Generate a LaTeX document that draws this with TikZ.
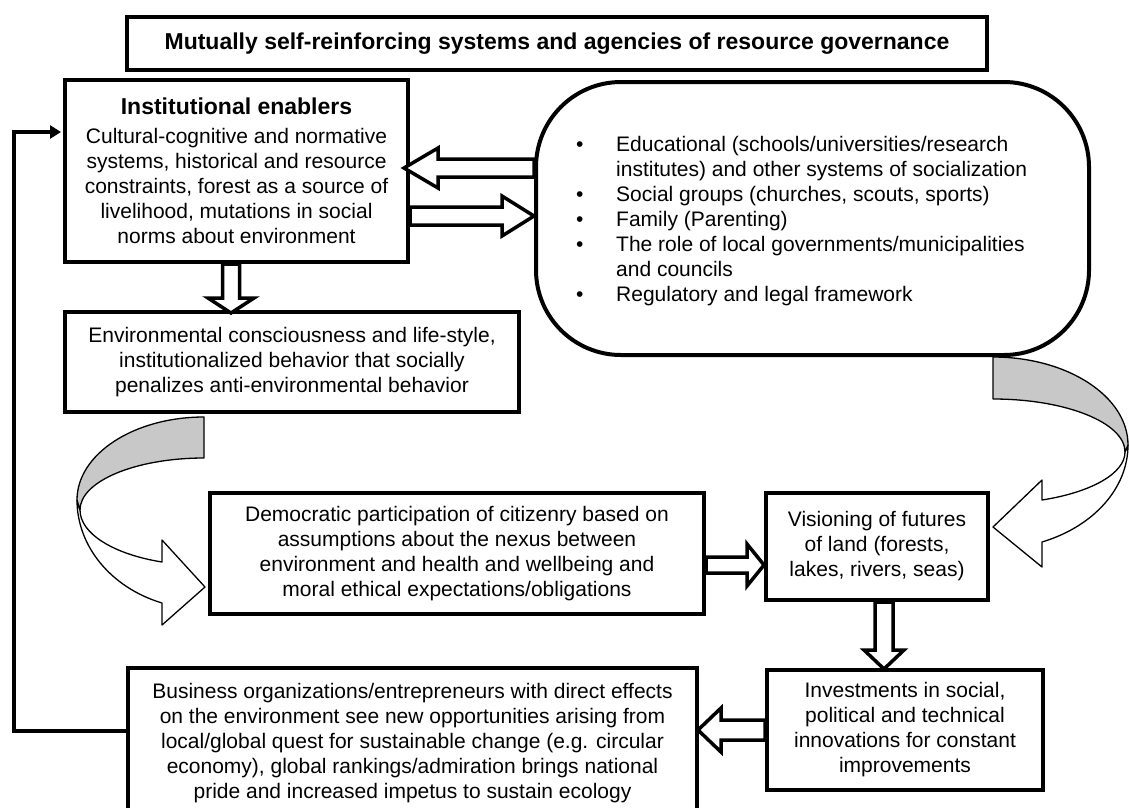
\documentclass[tikz,border=0pt]{standalone}
\usepackage{fontspec}
\setmainfont{Liberation Sans}
\usetikzlibrary{arrows.meta}
\newcommand\diagfont{\fontsize{21}{25}\selectfont}
\newcommand\headfont{\fontsize{23}{27}\selectfont\bfseries}
\newcommand\bl{\makebox[40pt][l]{•}}
\newcommand\ind{\hspace*{40pt}}
\definecolor{bandgray}{RGB}{200,200,200}
\begin{document}
\begin{tikzpicture}[x=1pt,y=-1pt,
  box/.style={draw, line width=4pt, inner sep=0pt, align=center, font=\diagfont},
  hollowline/.style={draw, fill=white, line width=3.5pt, miter limit=10},
  band/.style={draw, line width=1.3pt, line join=round},
  feedback/.style={line width=4pt, -{Triangle[length=11pt,width=13pt]}},
  pics/hollow/.style args={#1/#2/#3/#4}{code={
    \path[hollowline] (0,#2) -- ({#1-#4},#2) -- ({#1-#4},#3) -- (#1,0)
      -- ({#1-#4},-#3) -- ({#1-#4},-#2) -- (0,-#2) -- cycle;}}]
\useasboundingbox (0,0) rectangle (1129,807);
\clip (0,0) rectangle (1129,807);

% boxes
\node[box, minimum width=860pt, minimum height=53pt, font=\headfont] (title) at (557,43.5)
  {Mutually self-reinforcing systems and agencies of resource governance};
\node[box, minimum width=343pt, minimum height=182pt] (inst) at (236.5,171)
  {{\headfont Institutional enablers}\\[4pt]
   Cultural-cognitive and normative\\ systems, historical and resource\\
   constraints, forest as a source of\\ livelihood, mutations in social\\
   norms about environment};
\node[box, rounded corners=85pt, minimum width=553pt, minimum height=273pt] (bullets) at (812.5,218.5) {};
\node[anchor=west, align=left, inner sep=0pt, font=\diagfont] (blist) at (576,221)
  {\bl Educational (schools/universities/research\\
   \ind institutes) and other systems of socialization\\
   \bl Social groups (churches, scouts, sports)\\
   \bl Family (Parenting)\\
   \bl The role of local governments/municipalities\\
   \ind and councils\\
   \bl Regulatory and legal framework};
\node[box, minimum width=454pt, minimum height=100pt] (env) at (292,362)
  {Environmental consciousness and life-style,\\ institutionalized behavior that socially\\
   penalizes anti-environmental behavior};
\node[box, minimum width=494pt, minimum height=121pt] (dem) at (457,553.5)
  {Democratic participation of citizenry based on\\ assumptions about the nexus between\\
   environment and health and wellbeing and\\ moral ethical expectations/obligations};
\node[box, minimum width=222pt, minimum height=107pt] (vis) at (877,546.5)
  {Visioning of futures\\ of land (forests,\\ lakes, rivers, seas)};
\node[box, minimum width=276pt, minimum height=120pt] (inv) at (905,730)
  {Investments in social,\\ political and technical\\ innovations for constant\\ improvements};
\node[box, minimum width=569pt, minimum height=150pt] (bus) at (412.5,743)
  {Business organizations/entrepreneurs with direct effects\\
   on the environment see new opportunities arising from\\
   local/global quest for sustainable change (e.g. circular\\
   economy), global rankings/admiration brings national\\
   pride and increased impetus to sustain ecology};

% hollow block arrows between boxes
\pic[rotate=180] at (bullets.west |- 0,168) {hollow=130/9/20/34};
\pic at (inst.east |- 0,216) {hollow=124/9/20/32};
\pic[rotate=-90] at (inst.south -| 231,0) {hollow=49/8.5/23/15};
\pic at (dem.east |- 0,565) {hollow=58/8/21/17};
\pic[rotate=-90] at (vis.south -| 884,0) {hollow=67/9/20/19};
\pic[rotate=180] at (inv.west |- 0,730) {hollow=67/10/22/23};

% feedback loop from business back to the institutional enablers
\draw[feedback, shorten >=2pt] (bus.west |- 0,731) -- (14,731) |- (inst.west |- 0,132);

% curved ribbon arrow on the left: env -> dem
\path[band, fill=white] (80,510) .. controls (80,533.2) and (112.8,554.1) .. (162,562)
  -- (162,540) -- (205,587) -- (162,625) -- (162,603)
  .. controls (111.1,587.7) and (77,546.3) .. (77,500) -- cycle;
\path[band, fill=bandgray] (204,417) .. controls (134,417) and (77,454) .. (77,500)
  -- (80,510) .. controls (80,481) and (136,458) .. (204,458) -- cycle;

% curved ribbon arrow on the right: bullets -> vis
\path[band, fill=white] (1125,452) .. controls (1125,473.1) and (1092.1,492.1) .. (1042,500)
  -- (1042,480) -- (993,527) -- (1042,567) -- (1042,542)
  .. controls (1093.9,526.4) and (1128,487.9) .. (1128,445) -- cycle;
\path[band, fill=bandgray] (993,357) .. controls (1067.5,357) and (1128,396.4) .. (1128,445)
  -- (1125,452) .. controls (1125,422.7) and (1065.9,399) .. (993,399) -- cycle;
\end{tikzpicture}
\end{document}
